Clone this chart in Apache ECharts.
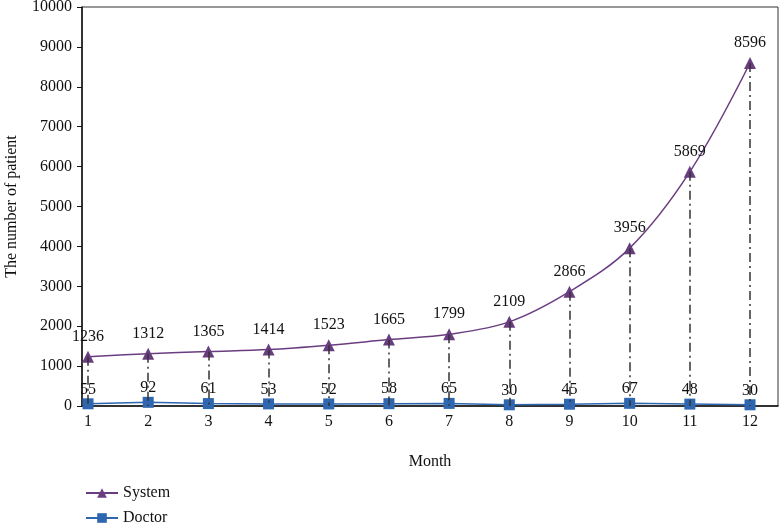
<!DOCTYPE html>
<html><head><meta charset="utf-8">
<script src="https://cdn.jsdelivr.net/npm/echarts@6/dist/echarts.min.js"></script>
<style>html,body{margin:0;padding:0;background:#fff}#c{width:779px;height:523px}</style>
</head><body><div id="c"></div>
<script>
const months = [1,2,3,4,5,6,7,8,9,10,11,12];
const systemVals = [1236,1312,1365,1414,1523,1665,1799,2109,2866,3956,5869,8596];
const doctorVals = [55,92,61,53,52,58,65,30,45,67,48,30];
const yTicks = [0,1000,2000,3000,4000,5000,6000,7000,8000,9000,10000];

const FONT = "'Liberation Serif', 'DejaVu Serif', serif";
const FS = 16;
const chart = echarts.init(document.getElementById('c'));
const legendBase = {
  orient: 'horizontal', left: 80, itemWidth: 32, itemHeight: 12,
  textStyle: {fontFamily: FONT, fontSize: FS, color: '#111'}
};
chart.setOption({
  animation: false,
  textStyle: {fontFamily: FONT},
  grid: {left: 82, right: 1, top: 7, bottom: 117, outerBoundsMode: 'none', containLabel: false,
    show: true, borderColor: '#333', borderWidth: 1, backgroundColor: 'transparent'},
  legend: [
    Object.assign({}, legendBase, {top: 480, data: ['System']}),
    Object.assign({}, legendBase, {top: 505, data: ['Doctor']})
  ],
  xAxis: {
    type: 'value', min: 0.9, max: 12.465,
    name: 'Month', nameLocation: 'middle', nameGap: 48,
    nameTextStyle: {fontFamily: FONT, fontSize: FS, color: '#111'},
    axisLine: {show: true, lineStyle: {color: '#111', width: 1.5}},
    axisTick: {show: false},
    splitLine: {show: false},
    axisLabel: {customValues: months, fontFamily: FONT, fontSize: FS, color: '#111', margin: 8,
      formatter: v => String(v)}
  },
  yAxis: {
    type: 'value', min: 0, max: 10000, interval: 1000,
    name: 'The number of patient', nameLocation: 'middle', nameGap: 62, nameRotate: 90,
    nameTextStyle: {fontFamily: FONT, fontSize: FS, color: '#111'},
    axisLine: {show: true, lineStyle: {color: '#111', width: 1.5}},
    axisTick: {show: true, inside: false, length: 5, lineStyle: {color: '#111'}},
    splitLine: {show: false},
    axisLabel: {fontFamily: FONT, fontSize: FS, color: '#111', margin: 10, formatter: v => String(v)}
  },
  series: [
    {
      name: 'System', type: 'line', smooth: 0.35,
      data: months.map((m, i) => [m, systemVals[i]]),
      symbol: 'triangle', symbolSize: 12,
      itemStyle: {color: '#6a3d80'},
      lineStyle: {color: '#6a3d80', width: 1.5},
      label: {show: true, position: 'top', distance: 6, fontFamily: FONT, fontSize: FS, color: '#111',
        formatter: p => p.value[1]},
      z: 3,
      markLine: {
        silent: true, symbol: 'none', label: {show: false},
        lineStyle: {color: '#333', width: 1.5, type: [9, 4, 2, 4]},
        data: months.map((m, i) => [{coord: [m, systemVals[i]]}, {coord: [m, 0]}])
      }
    },
    {
      name: 'Doctor', type: 'line',
      data: months.map((m, i) => [m, doctorVals[i]]),
      symbol: 'rect', symbolSize: 11,
      itemStyle: {color: '#2e66b0'},
      lineStyle: {color: '#2e66b0', width: 1.5},
      label: {show: true, position: 'top', distance: 1, fontFamily: FONT, fontSize: FS, color: '#111',
        formatter: p => p.value[1]},
      z: 4
    }
  ]
});
</script></body></html>
